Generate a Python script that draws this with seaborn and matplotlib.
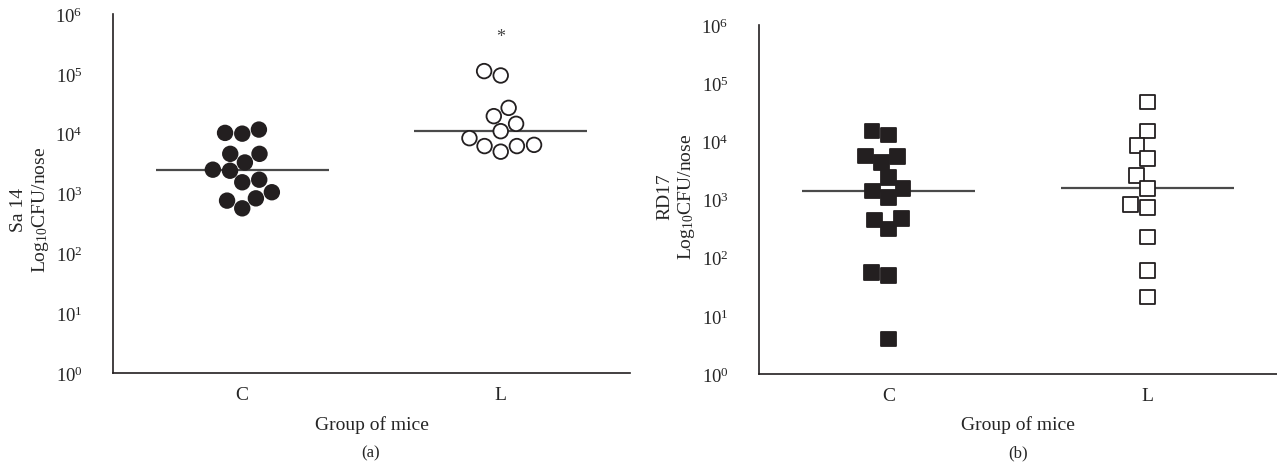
import numpy as np
import pandas as pd
import matplotlib
matplotlib.use("Agg")
import matplotlib.pyplot as plt
import matplotlib.ticker as mticker
import seaborn as sns
import warnings

warnings.filterwarnings("ignore", category=UserWarning)

groups = ["C", "L"]

# Sa 14 nasal counts (CFU/nose)
sa14_c = [2500, 10000, 11700, 10300, 4600, 4600, 3300, 2400, 1700, 1540, 1050, 830, 760, 565]
sa14_l = [93800, 111000, 27000, 19600, 14600, 11000, 8400, 6200, 5000, 6200, 6500]

# RD17 nasal counts (CFU/nose)
rd17_c = [15100, 12800, 5600, 5500, 4330, 2400, 1410, 1550, 1090, 473, 447, 310, 56, 49, 4]
rd17_l = [47600, 15100, 8560, 5100, 2560, 1550, 830, 730, 228, 60, 21]

decades = [10 ** k for k in range(7)]

sns.set_style("white")
plt.rcParams["font.family"] = ["Liberation Serif", "DejaVu Serif"]
plt.rcParams["mathtext.fontset"] = "custom"
plt.rcParams["mathtext.rm"] = "Liberation Serif"
plt.rcParams["mathtext.default"] = "regular"

ink = "#231f20"


def draw_panel(ax, c_vals, l_vals, marker, strain, star=False):
    df = pd.DataFrame({
        "group": ["C"] * len(c_vals) + ["L"] * len(l_vals),
        "cfu": c_vals + l_vals,
    })
    # median line only
    sns.boxplot(data=df, x="group", y="cfu", order=groups, width=0.67,
                log_scale=True, showbox=False, showcaps=False, showfliers=False,
                whiskerprops={"visible": False},
                medianprops={"color": "#4a4a4a", "linewidth": 1.6},
                ax=ax)
    sns.swarmplot(data=df, x="group", y="cfu", order=groups, hue="group",
                  hue_order=groups, palette={"C": ink, "L": "white"},
                  marker=marker, size=10.5, edgecolor=ink, linewidth=1.3,
                  log_scale=True, legend=False, zorder=3, ax=ax)

    ax.set_ylim(1, 1e6)
    ax.set_xlim(-0.5, 1.5)
    ax.set_yticks(decades)
    ax.yaxis.set_minor_locator(mticker.NullLocator())
    sns.despine(ax=ax)
    for s in ["left", "bottom"]:
        ax.spines[s].set_color(ink)
        ax.spines[s].set_linewidth(1.2)

    ax.tick_params(axis="y", length=7, width=1.1, color=ink, pad=15, labelsize=13.5)
    ax.tick_params(axis="x", length=0, pad=9, labelsize=14)

    ax.set_xlabel("Group of mice", fontsize=14)
    ax.set_ylabel(f"{strain}\nLog$_{{10}}$CFU/nose", fontsize=14, linespacing=1.2)

    if star:
        ax.text(1, 4.2e5, "*", ha="center", va="center", fontsize=13, color="#444444")
    return ax


fig = plt.figure(figsize=(12.77, 4.77), dpi=100)

ax_a = fig.add_axes([0.0885, 0.2159, 0.4048, 0.7527])
draw_panel(ax_a, sa14_c, sa14_l, "o", "Sa 14", star=True)
ax_a.yaxis.set_label_coords(-0.12, 0.457)
ax_a.xaxis.set_label_coords(0.5, -0.117)

ax_b = fig.add_axes([0.5944, 0.2138, 0.4056, 0.7317])
draw_panel(ax_b, rd17_c, rd17_l, "s", "RD17")
ax_b.yaxis.set_label_coords(-0.12, 0.51)
ax_b.xaxis.set_label_coords(0.5, -0.1175)
# the control median in panel (b) is drawn in black
for ln in ax_b.lines[:1]:
    ln.set_color("black")

fig.text(0.29, 0.05, "(a)", ha="center", va="center", fontsize=12)
fig.text(0.797, 0.05, "(b)", ha="center", va="center", fontsize=12)

fig.savefig("out.png", dpi=100)
plt.close(fig)
